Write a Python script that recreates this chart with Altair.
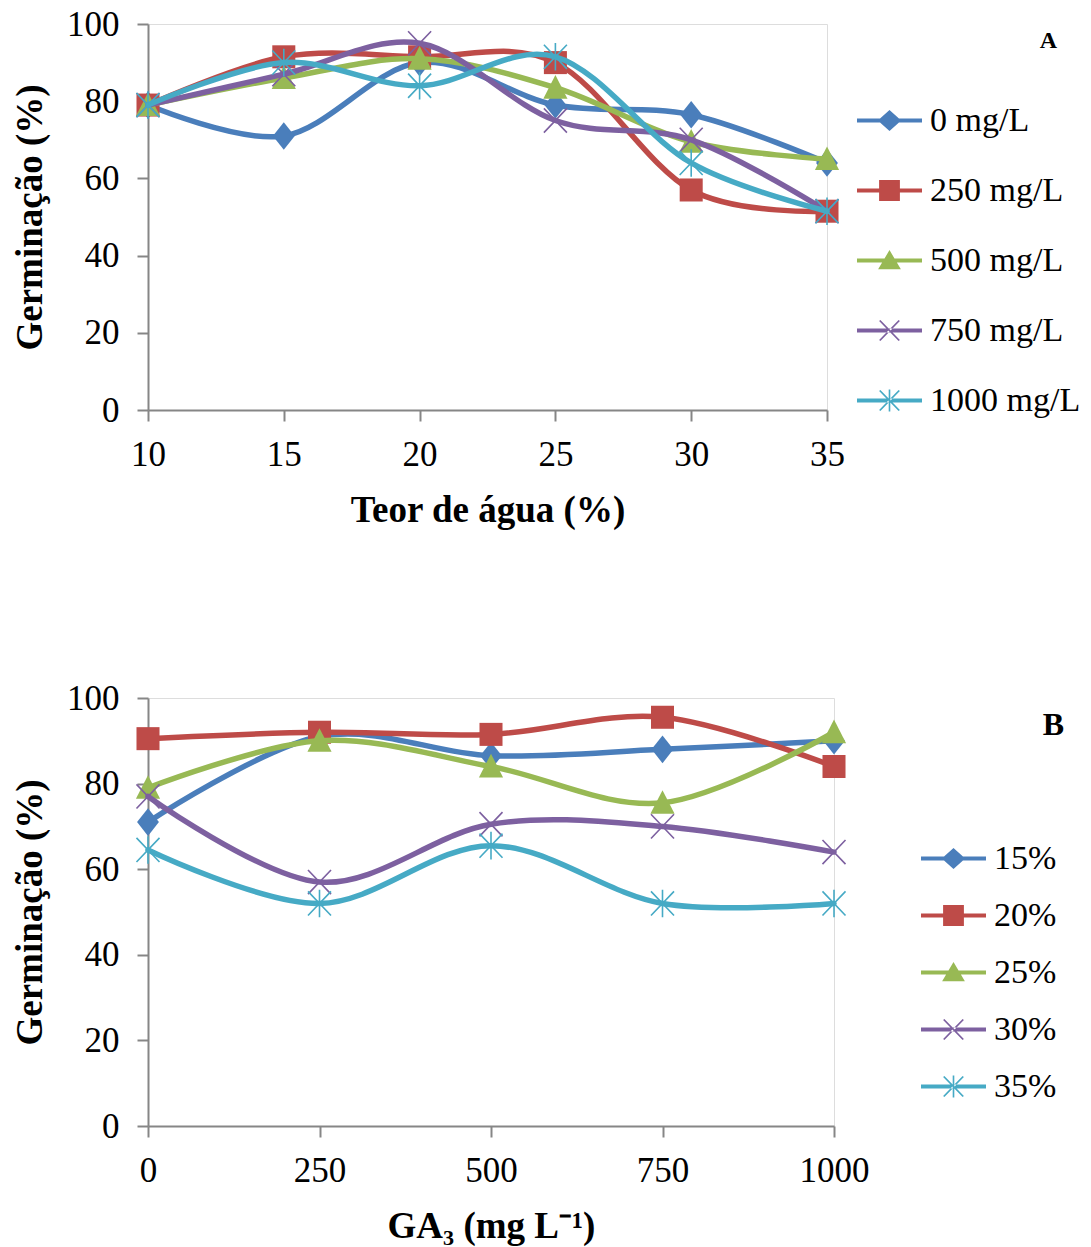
import altair as alt
import pandas as pd

# ---------------- data ----------------
water = [10, 15, 20, 25, 30, 35]
conc_labels = ["0 mg/L", "250 mg/L", "500 mg/L", "750 mg/L", "1000 mg/L"]
a_0 = [79, 71, 90, 79, 76.5, 64]
a_250 = [79, 91.5, 91.5, 90, 57, 51.5]
a_500 = [79, 86, 91, 83.5, 69.5, 65]
a_750 = [79, 87, 95, 75, 70, 51.5]
a_1000 = [79, 90, 84, 91.5, 64, 51.5]

ga3 = [0, 250, 500, 750, 1000]
water_labels = ["15%", "20%", "25%", "30%", "35%"]
b_15 = [71, 91, 86.5, 88, 90]
b_20 = [90.5, 92, 91.5, 95.5, 84]
b_25 = [79, 90, 84, 75.5, 92]
b_30 = [77, 57, 70.5, 70, 64]
b_35 = [64.5, 52, 65.5, 52, 52]

colors = ["#4A7EBB", "#BE4B48", "#98B954", "#7D60A0", "#46AAC5"]

# plot markers (custom symbol paths) and whether they are filled
marker_paths = [
    "M0,-1.2L0.95,0L0,1.2L-0.95,0Z",
    "M-1,-1L1,-1L1,1L-1,1Z",
    "M0,-1.1L1.05,0.95L-1.05,0.95Z",
    "M-1,-1.05L1,1.05M-1,1.05L1,-1.05",
    "M-1,-1.05L1,1.05M-1,1.05L1,-1.05M0,-1.2L0,1.2",
]
marker_filled = [True, True, True, False, False]

# legend symbols: a line (thin rectangle) with the marker in its middle
line_part = "M-1,-0.065L1,-0.065L1,0.065L-1,0.065Z"
legend_paths = [
    line_part + "M0,-0.32L0.36,0L0,0.32L-0.36,0Z",
    line_part + "M-0.32,-0.32L0.32,-0.32L0.32,0.32L-0.32,0.32Z",
    line_part + "M0,-0.32L0.35,0.27L-0.35,0.27Z",
    line_part + "M-0.32,-0.29L-0.28,-0.32L0.32,0.29L0.28,0.32Z"
                "M-0.32,0.29L-0.28,0.32L0.32,-0.29L0.28,-0.32Z",
    line_part + "M-0.32,-0.29L-0.28,-0.32L0.32,0.29L0.28,0.32Z"
                "M-0.32,0.29L-0.28,0.32L0.32,-0.29L0.28,-0.32Z"
                "M-0.025,-0.34L0.025,-0.34L0.025,0.34L-0.025,0.34Z",
]

FONT = "Liberation Serif"
AXIS_GRAY = "#868686"


def long_table(xs, labels, series):
    rows = []
    for lab, vals in zip(labels, series):
        for xv, yv in zip(xs, vals):
            rows.append({"x": xv, "value": yv, "series": lab})
    return pd.DataFrame(rows)


def make_panel(df, xs, labels, x_domain, x_title, width, height,
               letter, letter_size, letter_offset, letter_dx,
               legend_x, legend_y, row_pad):
    x_enc = alt.X(
        "x:Q",
        scale=alt.Scale(domain=x_domain, nice=False, zero=False),
        axis=alt.Axis(
            values=xs, title=x_title, grid=False, labelFlush=False,
            format="d",
            tickSize=11, tickWidth=2, tickColor=AXIS_GRAY,
            domainColor=AXIS_GRAY, domainWidth=2,
            labelFont=FONT, labelFontSize=35, labelColor="black",
            labelPadding=16, titleFont=FONT, titleFontSize=37,
            titleFontWeight="bold", titleColor="black", titlePadding=20,
        ),
    )
    y_enc = alt.Y(
        "value:Q",
        scale=alt.Scale(domain=[0, 100], nice=False),
        axis=alt.Axis(
            values=[0, 20, 40, 60, 80, 100], title="Germinação (%)",
            grid=False, tickSize=11, tickWidth=2, tickColor=AXIS_GRAY,
            domainColor=AXIS_GRAY, domainWidth=2,
            labelFont=FONT, labelFontSize=35, labelColor="black",
            labelPadding=18, titleFont=FONT, titleFontSize=37,
            titleFontWeight="bold", titleColor="black", titlePadding=17,
        ),
    )

    base = alt.Chart(df)
    layers = []
    for i, lab in enumerate(labels):
        sub = base.transform_filter(alt.datum.series == lab)
        layers.append(
            sub.mark_line(interpolate="cardinal", tension=0, strokeWidth=5.5,
                          strokeCap="round", strokeJoin="round",
                          color=colors[i])
            .encode(x=x_enc, y=y_enc)
        )
        layers.append(
            sub.mark_point(shape=marker_paths[i], size=530,
                           filled=marker_filled[i], opacity=1,
                           strokeWidth=1.6, color=colors[i])
            .encode(x=x_enc, y=y_enc)
        )

    leg = alt.Legend(
        title=None, orient="none", legendX=legend_x, legendY=legend_y,
        symbolSize=4225, symbolStrokeWidth=0, labelFont=FONT,
        labelFontSize=34, labelColor="black", labelOffset=8,
        rowPadding=row_pad, padding=0, labelLimit=400,
    )
    legend_layer = base.transform_filter("false").mark_point(
        filled=True, opacity=1
    ).encode(
        x=x_enc, y=y_enc,
        fill=alt.Fill("series:N",
                      scale=alt.Scale(domain=labels, range=colors),
                      legend=leg),
        shape=alt.Shape("series:N",
                        scale=alt.Scale(domain=labels, range=legend_paths),
                        legend=leg),
    )
    layers.append(legend_layer)

    return alt.layer(*layers).properties(
        width=width, height=height,
        title=alt.TitleParams(
            letter, anchor="end", frame="bounds", orient="top",
            font=FONT, fontSize=letter_size, fontWeight="bold",
            color="black", offset=letter_offset, dx=letter_dx,
        ),
    )


df_a = long_table(water, conc_labels, [a_0, a_250, a_500, a_750, a_1000])
df_b = long_table(ga3, water_labels, [b_15, b_20, b_25, b_30, b_35])

top = make_panel(df_a, water, conc_labels, [10, 35], "Teor de água (%)",
                 679, 386, "A", 24, -46, -24, 709, 64, 20)
bottom = make_panel(df_b, ga3, water_labels, [0, 1000], "GA₃ (mg L⁻¹)",
                    686, 428, "B", 32, -61, 7, 773, 128, 7)

chart = alt.vconcat(top, bottom, spacing=151).resolve_scale(
    shape="independent", fill="independent"
).properties(
    padding={"left": 11, "top": 6, "right": 5, "bottom": 5}
).configure_view(stroke=None).configure(background="white")

chart.save("out.html", embed_options={"renderer": "svg", "actions": False})
